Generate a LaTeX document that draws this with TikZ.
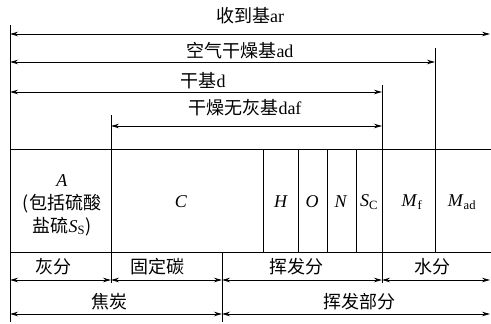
\documentclass[tikz,border=0pt]{standalone}
\usepackage{fontspec}
\setmainfont{Liberation Serif}
\newfontfamily\cjk{Noto Sans CJK SC}
\usetikzlibrary{arrows.meta}
\begin{document}
\begin{tikzpicture}[x=1pt,y=-1pt, line width=0.8pt,
  >={Stealth[length=8pt,width=4.5pt]},
  dim/.style={<->},
  lbl/.style={font=\fontsize{18}{23}\selectfont, inner sep=0pt, align=center},
  zh/.style={lbl, font=\fontsize{18}{23}\selectfont\cjk}]
\useasboundingbox (0,0) rectangle (491,324);
% vertical lines
\coordinate (v0a) at (10,25);   \coordinate (v0b) at (10,322);
\coordinate (v1a) at (111,115); \coordinate (v1b) at (111,283);
\coordinate (v2a) at (222,252); \coordinate (v2b) at (222,322);
\coordinate (v3a) at (263,149); \coordinate (v3b) at (263,252);
\coordinate (v4a) at (298,149); \coordinate (v4b) at (298,252);
\coordinate (v5a) at (327,149); \coordinate (v5b) at (327,252);
\coordinate (v6a) at (356,149); \coordinate (v6b) at (356,252);
\coordinate (v7a) at (382,85);  \coordinate (v7b) at (382,283);
\coordinate (v8a) at (435,48);  \coordinate (v8b) at (435,252);
\foreach \i in {0,...,8} {\draw (v\i a) -- (v\i b);}
% box top and bottom
\coordinate (bt1) at (10,149); \coordinate (bt2) at (491,149);
\coordinate (bb1) at (10,252); \coordinate (bb2) at (491,252);
\draw (bt1) -- (bt2);
\draw (bb1) -- (bb2);
% top dimension arrows
\coordinate (a1l) at (10,34);  \coordinate (a1r) at (490,34);
\coordinate (a2l) at (10,62);  \coordinate (a2r) at (435,62);
\coordinate (a3l) at (10,92);  \coordinate (a3r) at (382,92);
\coordinate (a4l) at (111,126); \coordinate (a4r) at (382,126);
\draw[dim] (a1l) -- (a1r);
\draw[dim] (a2l) -- (a2r);
\draw[dim] (a3l) -- (a3r);
\draw[dim] (a4l) -- (a4r);
\node[lbl] (tar) at (250,16) {{\cjk 收到基}ar};
\node[lbl] (tad) at (240,51) {{\cjk 空气干燥基}ad};
\node[lbl] (td) at (203,81) {{\cjk 干基}d};
\node[lbl] (tdaf) at (245,108) {{\cjk 干燥无灰基}daf};
% cells
\node[lbl] (cA) at (62,205) {\textit{A}\\{\cjk (包括硫酸}\\{\cjk 盐硫}\textit{S}\textsubscript{S}{\cjk )}};
\node[lbl] (cC) at (181,202) {\textit{C}};
\node[lbl] (cH) at (281,202) {\textit{H}};
\node[lbl] (cO) at (312,202) {\textit{O}};
\node[lbl] (cN) at (341,202) {\textit{N}};
\node[lbl] (cS) at (369,202) {\textit{S}\textsubscript{C}};
\node[lbl] (cMf) at (412,202) {\textit{M}\textsubscript{f}};
\node[lbl] (cMad) at (462,202) {\textit{M}\textsubscript{ad}};
% bottom row 1
\coordinate (r1a) at (10,280); \coordinate (r1b) at (111,280);
\coordinate (r1c) at (222,280); \coordinate (r1d) at (382,280);
\coordinate (r1e) at (490,280);
\draw[dim] (r1a) -- (r1b);
\draw[dim] (r1b) -- (r1c);
\draw[dim] (r1c) -- (r1d);
\draw[dim] (r1d) -- (r1e);
\node[zh] (hf) at (53,267) {灰分};
\node[zh] (gdt) at (157,267) {固定碳};
\node[zh] (hff) at (296,267) {挥发分};
\node[zh] (sf) at (432,267) {水分};
% bottom row 2
\coordinate (r2a) at (10,314); \coordinate (r2b) at (222,314);
\coordinate (r2c) at (490,314);
\draw[dim] (r2a) -- (r2b);
\draw[dim] (r2b) -- (r2c);
\node[zh] (jt) at (110,302) {焦炭};
\node[zh] (hfbf) at (359,302) {挥发部分};
\end{tikzpicture}
\end{document}
